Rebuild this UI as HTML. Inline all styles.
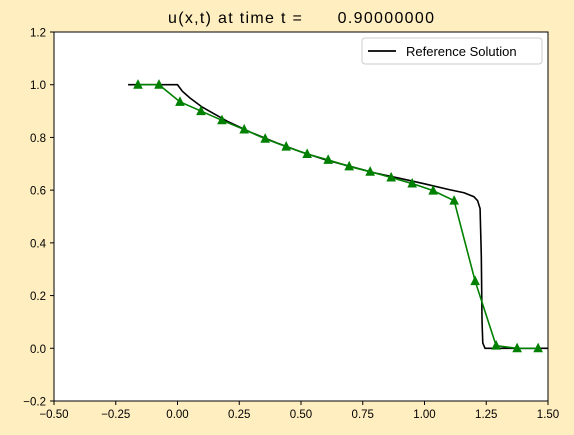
<!DOCTYPE html>
<html><head><meta charset="utf-8"><style>
body{margin:0;background:#ffeebf;}
svg{display:block;font-family:"Liberation Sans","DejaVu Sans",sans-serif;}
</style></head><body>
<svg id="chart" width="574" height="435">
<rect x="0" y="0" width="574" height="435" fill="#ffeebf"/>
<rect x="54" y="32" width="494" height="369" fill="#fff"/>
<text x="301" y="23" text-anchor="middle" font-size="16" textLength="266" lengthAdjust="spacing" style="white-space:pre">u(x,t) at time t =      0.90000000</text>
<g id="ticks"></g>
<g id="series"></g>
<rect x="54" y="32" width="494" height="369" fill="none" stroke="#000" stroke-width="1"/>
<g>
<rect x="362" y="38" width="180" height="26" rx="3" fill="#fff" stroke="#ccc"/>
<line x1="368" y1="51" x2="396" y2="51" stroke="#000" stroke-width="1.8"/>
<text x="406" y="56" font-size="13">Reference Solution</text>
</g>
</svg>
<script>
const xTicks=[-0.5,-0.25,0,0.25,0.5,0.75,1.0,1.25,1.5];
const xTickLabels=["−0.50","−0.25","0.00","0.25","0.50","0.75","1.00","1.25","1.50"];
const yTicks=[-0.2,0,0.2,0.4,0.6,0.8,1.0,1.2];
const yTickLabels=["−0.2","0.0","0.2","0.4","0.6","0.8","1.0","1.2"];
const numX=[-0.16,-0.075,0.01,0.095,0.18,0.27,0.355,0.44,0.525,0.61,0.695,0.78,0.865,0.95,1.035,1.12,1.205,1.29,1.375,1.46];
const numY=[1.0,1.0,0.935,0.90,0.865,0.83,0.795,0.765,0.737,0.715,0.69,0.67,0.648,0.625,0.598,0.56,0.255,0.01,0.0,0.0];
const refX=[-0.2,0,0.02,0.05,0.1,0.2,0.3,0.4,0.5,0.6,0.7,0.8,0.9,1.0,1.1,1.16,1.2,1.215,1.225,1.23,1.233,1.236,1.245,1.5];
const refY=[1.0,1.0,0.975,0.95,0.915,0.862,0.818,0.78,0.745,0.715,0.69,0.665,0.645,0.624,0.602,0.59,0.575,0.56,0.53,0.35,0.1,0.02,0.0,0.0];
const sx=v=>54+(v+0.5)*247, sy=v=>401-(v+0.2)*263.57;
const NS="http://www.w3.org/2000/svg";
const tg=document.getElementById('ticks'), sg=document.getElementById('series');
function mk(tag,attrs,parent){const e=document.createElementNS(NS,tag);for(const k in attrs)e.setAttribute(k,attrs[k]);parent.appendChild(e);return e;}
xTicks.forEach((v,i)=>{
 const l=mk('line',{x1:sx(v),x2:sx(v),y1:401,y2:405,stroke:'#000'},tg);
 
 
 const t=mk('text',{x:sx(v),y:418,'text-anchor':'middle','font-size':11.5},tg);t.textContent=xTickLabels[i];
 
 
});
yTicks.forEach((v,i)=>{
 const l=mk('line',{x1:50,x2:54,y1:sy(v),y2:sy(v),stroke:'#000'},tg);
 
 
 const t=mk('text',{x:46,y:sy(v)+4.5,'text-anchor':'end','font-size':11.5},tg);t.textContent=yTickLabels[i];
 
 
});
const ref=mk('polyline',{points:refX.map((x,i)=>sx(x)+','+sy(refY[i])).join(' '),fill:'none',stroke:'#000','stroke-width':1.6},sg);


const num=mk('polyline',{points:numX.map((x,i)=>sx(x)+','+sy(numY[i])).join(' '),fill:'none',stroke:'#008000','stroke-width':1.6},sg);


numX.forEach((x,i)=>{
 const cx=sx(x),cy=sy(numY[i]);
 const p=mk('polygon',{points:`${cx},${cy-4.5} ${cx-4},${cy+3.5} ${cx+4},${cy+3.5}`,fill:'#008000',stroke:'#008000'},sg);
 
 
});
</script>
</body></html>
